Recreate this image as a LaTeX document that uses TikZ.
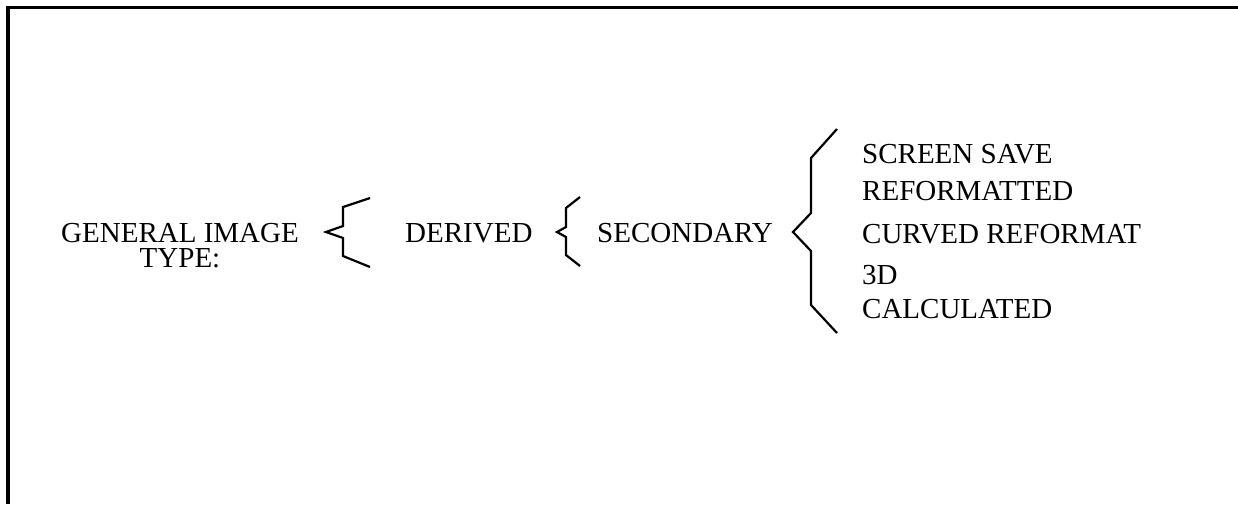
\documentclass[tikz,border=0pt]{standalone}
\usepackage{fontspec}
\setmainfont{Liberation Serif}
\begin{document}
\begin{tikzpicture}[x=1pt,y=-1pt,
  lbl/.style={inner sep=0pt,font=\fontsize{29}{25}\selectfont},
  brace/.style={line width=2.2pt,line join=miter}]
\useasboundingbox (0,0) rectangle (1238,504);
\fill[white] (0,0) rectangle (1238,504);
\draw[line width=3.5pt] (8,504) -- (8,7.5) -- (1238,7.5);
% texts
\node[lbl,anchor=base,align=center] (gen) at (180,267) {GENERAL IMAGE\\TYPE:};
\node[lbl,anchor=base west] (der) at (405,242) {DERIVED};
\node[lbl,anchor=base west] (sec) at (597,242) {SECONDARY};
\node[lbl,anchor=base west] (s1) at (862,163) {SCREEN SAVE};
\node[lbl,anchor=base west] (s2) at (862,200) {REFORMATTED};
\node[lbl,anchor=base west] (s3) at (862,243) {CURVED REFORMAT};
\node[lbl,anchor=base west] (s4) at (862,284) {3D};
\node[lbl,anchor=base west] (s5) at (862,318) {CALCULATED};
% braces
\draw[brace] (370,198) -- (343,207) -- (343,226) -- (326,232) -- (343,238) -- (343,256) -- (370,267);
\draw[brace] (580,197) -- (566,208) -- (566,227) -- (557,232) -- (566,237) -- (566,255) -- (580,266);
\draw[brace] (837,129) -- (811,158) -- (811,213) -- (793,232) -- (811,251) -- (811,305) -- (837,333);
\end{tikzpicture}
\end{document}
